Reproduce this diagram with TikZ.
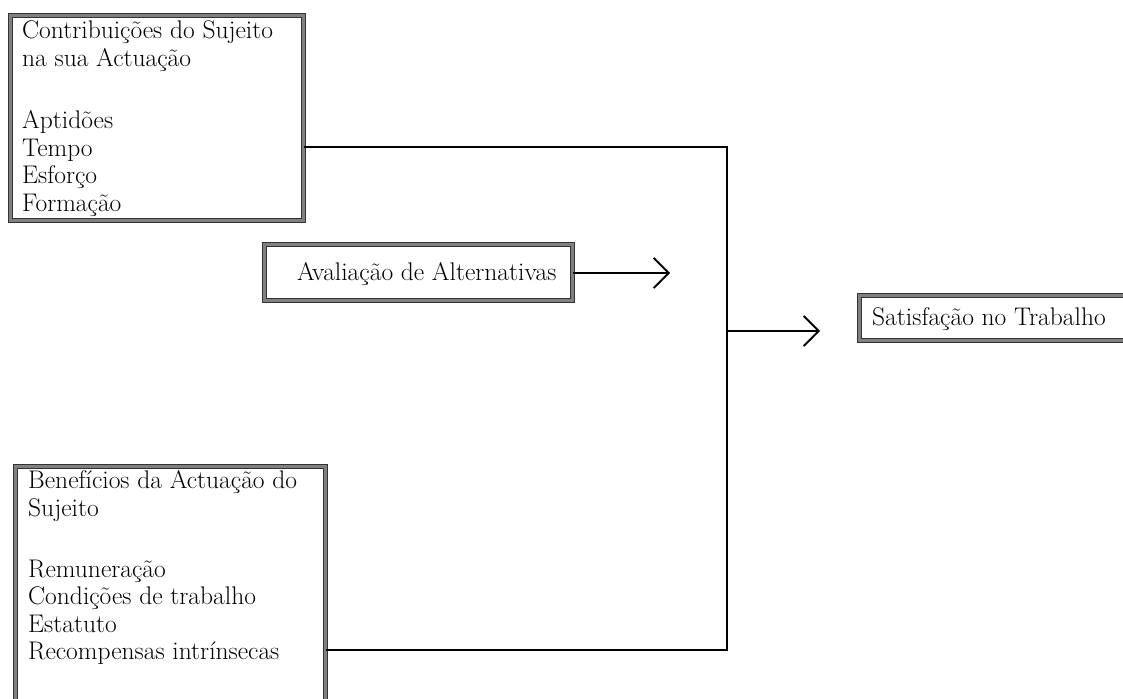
\documentclass[tikz,border=0pt]{standalone}
\usetikzlibrary{arrows.meta}
\begin{document}
\begin{tikzpicture}[x=1pt,y=-1pt,
  frame/.style={draw=black!80, line width=0.9pt, double=black!50, double distance=2.4pt,
                inner sep=0pt, anchor=north west},
  boxtext/.style={inner sep=0pt, align=left, font=\fontsize{25.5}{27.5}\selectfont},
  link/.style={line width=1.8pt},
  arrowlink/.style={link, -{Straight Barb[length=15pt,width=30pt]}}]
\useasboundingbox (0,0) rectangle (1123,698);
\clip (0,0) rectangle (1123,698);
\fill[white] (0,0) rectangle (1123,698);

% boxes
\node[frame, minimum width=293pt, minimum height=205pt] (contrib) at (10,15) {};
\node[frame, minimum width=310pt, minimum height=260pt] (benef) at (15,466) {};
\node[frame, minimum width=308pt, minimum height=56pt] (aval) at (264,244) {};
\node[frame, minimum width=300pt, minimum height=45pt] (satis) at (859,295) {};

% box contents
\node[boxtext, anchor=north west] (contribtext) at (22,20.5)
  {Contribuições do Sujeito\\na sua Actuação\\[35pt]Aptidões\\Tempo\\Esforço\\Formação};
\node[boxtext, anchor=north west] (beneftext) at (28,470.5)
  {Benefícios da Actuação do\\Sujeito\\[33.5pt]Remuneração\\Condições de trabalho\\Estatuto\\Recompensas intrínsecas};
\node[boxtext, anchor=base west] (avaltext) at (297,280) {Avaliação de Alternativas};
\node[boxtext, anchor=base west] (satistext) at (872,325) {Satisfação no Trabalho};

% connectors
\coordinate (topjoin) at (727,147);
\coordinate (botjoin) at (727,650);
\coordinate (avaltip) at (670,273);
\coordinate (satstart) at (727,331);
\coordinate (sattip) at (820,331);

\draw[link] (contrib.east |- topjoin) -- (topjoin) -- (botjoin) -- (benef.east |- botjoin);
\draw[arrowlink] (aval.east |- avaltip) -- (avaltip);
\draw[arrowlink] (satstart) -- (sattip);
\end{tikzpicture}
\end{document}
